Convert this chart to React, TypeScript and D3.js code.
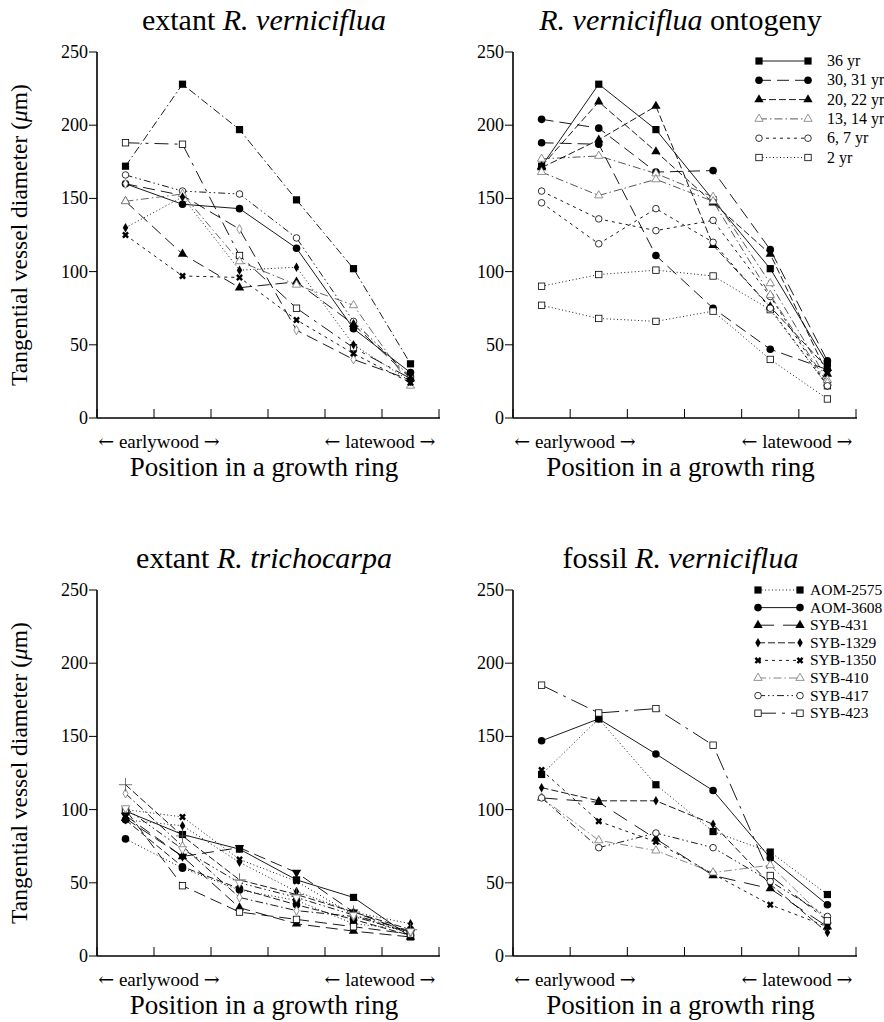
import React from 'react';
import * as d3 from 'd3';

const FONT = '"Liberation Serif", "DejaVu Serif", serif';
const ARROW_FONT = '"DejaVu Serif", serif';

const POSITIONS = ['1', '2', '3', '4', '5', '6'];
const Y_TICKS = [0, 50, 100, 150, 200, 250];

// extant R. verniciflua
const vernSqFilled = [172, 228, 197, 149, 102, 37];
const vernSqOpen = [188, 187, 111, 75, 48, 27];
const vernCircOpen = [166, 155, 153, 123, 66, 28];
const vernCircFilled = [160, 146, 143, 116, 61, 31];
const vernDiaOpen = [160, 152, 129, 60, 40, 26];
const vernTriFilled = [148, 112, 89, 93, 64, 27];
const vernTriOpen = [148, 153, 107, 91, 77, 22];
const vernDiaFilled = [130, 151, 101, 103, 50, 25];
const vernCross = [125, 97, 96, 67, 44, 24];

// R. verniciflua ontogeny
const onto36 = [172, 228, 197, 149, 102, 37];
const onto30a = [204, 198, 168, 169, 115, 39];
const onto30b = [188, 187, 111, 75, 47, 33];
const onto20a = [172, 216, 182, 147, 112, 30];
const onto20b = [171, 190, 213, 118, 76, 34];
const onto13a = [177, 179, 167, 151, 92, 26];
const onto13b = [168, 152, 163, 148, 84, 24];
const onto6a = [155, 136, 128, 135, 83, 22];
const onto6b = [147, 119, 143, 120, 75, 22];
const onto2a = [90, 98, 101, 97, 74, 22];
const onto2b = [77, 68, 66, 73, 40, 13];
const ONTO_LABELS = ['36 yr', '30, 31 yr', '20, 22 yr', '13, 14 yr', '6, 7 yr', '2 yr'];

// extant R. trichocarpa
const trichSqFilled = [99, 83, 73, 52, 40, 13];
const trichTdFilled = [96, 68, 74, 57, 30, 16];
const trichCross = [100, 95, 66, 51, 28, 15];
const trichDiaFilled = [93, 89, 64, 44, 30, 22];
const trichCircA = [80, 60, 45, 38, 22, 18];
const trichCircB = [93, 61, 46, 35, 25, 14];
const trichTriFilled = [94, 68, 33, 22, 17, 13];
const trichSqOpen = [100, 48, 30, 25, 20, 15];
const trichDiaOpen = [111, 75, 40, 31, 27, 16];
const trichPlus = [117, 82, 52, 42, 30, 18];
const trichTdOpen = [101, 73, 50, 40, 28, 17];

// fossil R. verniciflua
const FOSSIL_LABELS = ['AOM-2575', 'AOM-3608', 'SYB-431', 'SYB-1329', 'SYB-1350', 'SYB-410', 'SYB-417', 'SYB-423'];
const aom2575 = [124, 162, 117, 85, 71, 42];
const aom3608 = [147, 162, 138, 113, 67, 35];
const syb431 = [108, 105, 80, 55, 46, 20];
const syb1329 = [115, 106, 106, 90, 49, 16];
const syb1350 = [127, 92, 78, 56, 35, 20];
const syb410 = [108, 79, 72, 57, 62, 24];
const syb417 = [108, 74, 84, 74, 51, 27];
const syb423 = [185, 166, 169, 144, 55, 24];

const DASH = {
  solid: undefined,
  longdash: '12,6',
  dash: '7,3',
  shortdash: '3,4',
  dotted: '1,2.5',
  dashdot: '8,3,1.5,3',
  dashdotdot: '7,3,1.5,3,1.5,3',
  longdashdot: '14,6,3,6',
};

type Series = { values: number[]; marker: string; dash?: string; color?: string; label?: string };

const Marker = ({ type, x, y, color = '#000' }) => {
  const s = 3.6;
  const openFill = '#fff';
  switch (type) {
    case 'sqF':
      return <rect x={x - s} y={y - s} width={2 * s} height={2 * s} fill={color} />;
    case 'sqO':
      return <rect x={x - 3.2} y={y - 3.2} width={6.4} height={6.4} fill={openFill} stroke={color} strokeWidth={0.8} />;
    case 'ciF':
      return <circle cx={x} cy={y} r={3.8} fill={color} />;
    case 'ciO':
      return <circle cx={x} cy={y} r={3.3} fill={openFill} stroke={color} strokeWidth={0.8} />;
    case 'trF':
      return <path d={d3.symbol(d3.symbolTriangle, 38)()} transform={`translate(${x},${y})`} fill={color} />;
    case 'trO':
      return <path d={d3.symbol(d3.symbolTriangle, 30)()} transform={`translate(${x},${y})`} fill={openFill} stroke="#777" strokeWidth={0.8} />;
    case 'tdF':
      return <path d={d3.symbol(d3.symbolTriangle, 38)()} transform={`translate(${x},${y}) rotate(180)`} fill={color} />;
    case 'tdO':
      return <path d={d3.symbol(d3.symbolTriangle, 30)()} transform={`translate(${x},${y}) rotate(180)`} fill={openFill} stroke="#777" strokeWidth={0.8} />;
    case 'diF':
      return <path d={d3.symbol(d3.symbolDiamond, 26)()} transform={`translate(${x},${y})`} fill={color} />;
    case 'diO':
      return <path d={d3.symbol(d3.symbolDiamond, 24)()} transform={`translate(${x},${y})`} fill={openFill} stroke="#777" strokeWidth={0.8} />;
    case 'x':
      return <path d={d3.symbol(d3.symbolCross, 30)()} transform={`translate(${x},${y}) rotate(45)`} fill={color} />;
    case 'plus':
      return <path d={d3.symbol(d3.symbolPlus, 60)()} transform={`translate(${x},${y})`} fill="none" stroke="#555" strokeWidth={0.8} />;
    default:
      return null;
  }
};

const Arrowed = ({ word }) => (
  <>
    <tspan fontFamily={ARROW_FONT} fontSize={19}>←</tspan> {word} <tspan fontFamily={ARROW_FONT} fontSize={19}>→</tspan>
  </>
);

const Panel = ({ x0, x1, yTop, yBot, title, series, yLabel, legend }: any) => {
  const x = d3.scaleBand().domain(POSITIONS).range([x0, x1]);
  const y = d3.scaleLinear().domain([0, 250]).range([yBot, yTop]);
  const line = d3.line<number>()
    .x((_, i) => x(POSITIONS[i])! + x.bandwidth() / 2)
    .y((d) => y(d));
  const xTicks = [...POSITIONS.map((p) => x(p)!), x1];
  const cx = (x0 + x1) / 2 - 4;

  return (
    <g>
      <text x={cx} y={yTop - 22} textAnchor="middle" fontSize={30}>{title}</text>
      {yLabel && (
        <text transform={`translate(27,${(yTop + yBot) / 2}) rotate(-90)`} textAnchor="middle" fontSize={23.5}>
          Tangential vessel diameter (<tspan fontStyle="italic">μ</tspan>m)
        </text>
      )}
      {/* y axis */}
      <line x1={x0} x2={x0} y1={yTop} y2={yBot} stroke="#000" strokeWidth={1.6} />
      {Y_TICKS.map((t) => (
        <g key={t}>
          <line x1={x0 - 8} x2={x0} y1={y(t)} y2={y(t)} stroke="#000" strokeWidth={1} />
          <text x={x0 - 9} y={y(t) + 6} textAnchor="end" fontSize={18}>{t}</text>
        </g>
      ))}
      {/* x axis */}
      <line x1={x0} x2={x1 + 1} y1={yBot} y2={yBot} stroke="#000" strokeWidth={1.6} />
      {xTicks.map((t, i) => (
        <line key={i} x1={t} x2={t} y1={yBot} y2={yBot - 9} stroke="#000" strokeWidth={1} />
      ))}
      <text x={x0 + 62} y={yBot + 30} textAnchor="middle" fontSize={19}><Arrowed word="earlywood" /></text>
      <text x={x1 - 59} y={yBot + 30} textAnchor="middle" fontSize={19}><Arrowed word="latewood" /></text>
      <text x={cx} y={yBot + 58} textAnchor="middle" fontSize={27}>Position in a growth ring</text>

      {series.map((s: Series, i: number) => (
        <path key={'l' + i} d={line(s.values)!} fill="none" stroke={s.color || '#000'} strokeWidth={0.9}
          strokeDasharray={s.dash} />
      ))}
      {series.map((s: Series, i: number) =>
        s.values.map((v, j) => (
          <Marker key={`m${i}-${j}`} type={s.marker} x={x(POSITIONS[j])! + x.bandwidth() / 2} y={y(v)} />
        ))
      )}

      {legend && legend.items.map((it: Series, i: number) => {
        const ly = legend.y + i * legend.step;
        return (
          <g key={'lg' + i}>
            <line x1={legend.x} x2={legend.x + legend.len} y1={ly} y2={ly} stroke={it.color || '#000'}
              strokeWidth={0.9} strokeDasharray={it.dash} />
            <Marker type={it.marker} x={legend.x} y={ly} />
            <Marker type={it.marker} x={legend.x + legend.len} y={ly} />
            <text x={legend.x + legend.len + legend.gap} y={ly + 5} fontSize={legend.fontSize}>{it.label}</text>
          </g>
        );
      })}
    </g>
  );
};

const App = () => {
  const vernSeries: Series[] = [
    { values: vernSqFilled, marker: 'sqF', dash: DASH.dashdot },
    { values: vernSqOpen, marker: 'sqO', dash: DASH.longdashdot },
    { values: vernCircOpen, marker: 'ciO', dash: DASH.dashdotdot },
    { values: vernCircFilled, marker: 'ciF', dash: DASH.solid },
    { values: vernDiaOpen, marker: 'diO', dash: DASH.longdash },
    { values: vernTriFilled, marker: 'trF', dash: DASH.longdash },
    { values: vernTriOpen, marker: 'trO', dash: DASH.dashdot, color: '#555' },
    { values: vernDiaFilled, marker: 'diF', dash: DASH.dotted },
    { values: vernCross, marker: 'x', dash: DASH.shortdash },
  ];

  const ontoStyles: Series[] = [
    { values: onto36, marker: 'sqF', dash: DASH.solid },
    { values: onto30a, marker: 'ciF', dash: DASH.longdash },
    { values: onto20a, marker: 'trF', dash: DASH.dash },
    { values: onto13a, marker: 'trO', dash: DASH.dashdot, color: '#444' },
    { values: onto6a, marker: 'ciO', dash: DASH.shortdash },
    { values: onto2a, marker: 'sqO', dash: DASH.dotted },
  ];
  const ontoSeries: Series[] = [
    ...ontoStyles,
    { ...ontoStyles[1], values: onto30b },
    { ...ontoStyles[2], values: onto20b },
    { ...ontoStyles[3], values: onto13b },
    { ...ontoStyles[4], values: onto6b },
    { ...ontoStyles[5], values: onto2b },
  ];
  const ontoLegend = ontoStyles.map((s, i) => ({ ...s, label: ONTO_LABELS[i] }));

  const trichSeries: Series[] = [
    { values: trichSqFilled, marker: 'sqF', dash: DASH.solid },
    { values: trichTdFilled, marker: 'tdF', dash: DASH.longdash },
    { values: trichCross, marker: 'x', dash: DASH.dotted },
    { values: trichDiaFilled, marker: 'diF', dash: DASH.dotted },
    { values: trichCircA, marker: 'ciF', dash: DASH.dotted },
    { values: trichCircB, marker: 'ciF', dash: DASH.dash },
    { values: trichTriFilled, marker: 'trF', dash: DASH.longdash },
    { values: trichSqOpen, marker: 'sqO', dash: DASH.longdash },
    { values: trichDiaOpen, marker: 'diO', dash: DASH.dashdot },
    { values: trichPlus, marker: 'plus', dash: DASH.dash },
    { values: trichTdOpen, marker: 'tdO', dash: DASH.dashdotdot },
  ];

  const fossilSeries: Series[] = [
    { values: aom2575, marker: 'sqF', dash: DASH.dotted },
    { values: aom3608, marker: 'ciF', dash: DASH.solid },
    { values: syb431, marker: 'trF', dash: '16,9' },
    { values: syb1329, marker: 'diF', dash: DASH.dash },
    { values: syb1350, marker: 'x', dash: DASH.shortdash },
    { values: syb410, marker: 'trO', dash: DASH.dashdot, color: '#777' },
    { values: syb417, marker: 'ciO', dash: DASH.dashdotdot },
    { values: syb423, marker: 'sqO', dash: '18,6,3,6' },
  ].map((s, i) => ({ ...s, label: FOSSIL_LABELS[i] }));

  return (
    <svg width={884} height={1022} style={{ position: 'absolute', left: 0, top: 0, background: '#fff' }}
      fontFamily={FONT}>
      <Panel x0={97} x1={439} yTop={52} yBot={418} yLabel series={vernSeries}
        title={<>extant <tspan fontStyle="italic">R. verniciflua</tspan></>} />
      <Panel x0={513} x1={856} yTop={52} yBot={418} series={ontoSeries}
        title={<><tspan fontStyle="italic">R. verniciflua</tspan> ontogeny</>}
        legend={{ x: 759, y: 61, step: 19.3, len: 49, gap: 19, fontSize: 16, items: ontoLegend }} />
      <Panel x0={97} x1={439} yTop={590} yBot={956} yLabel series={trichSeries}
        title={<>extant <tspan fontStyle="italic">R. trichocarpa</tspan></>} />
      <Panel x0={513} x1={856} yTop={590} yBot={956} series={fossilSeries}
        title={<>fossil <tspan fontStyle="italic">R. verniciflua</tspan></>}
        legend={{ x: 758, y: 590, step: 17.6, len: 42, gap: 10, fontSize: 15.5, items: fossilSeries }} />
    </svg>
  );
};

export default App;
